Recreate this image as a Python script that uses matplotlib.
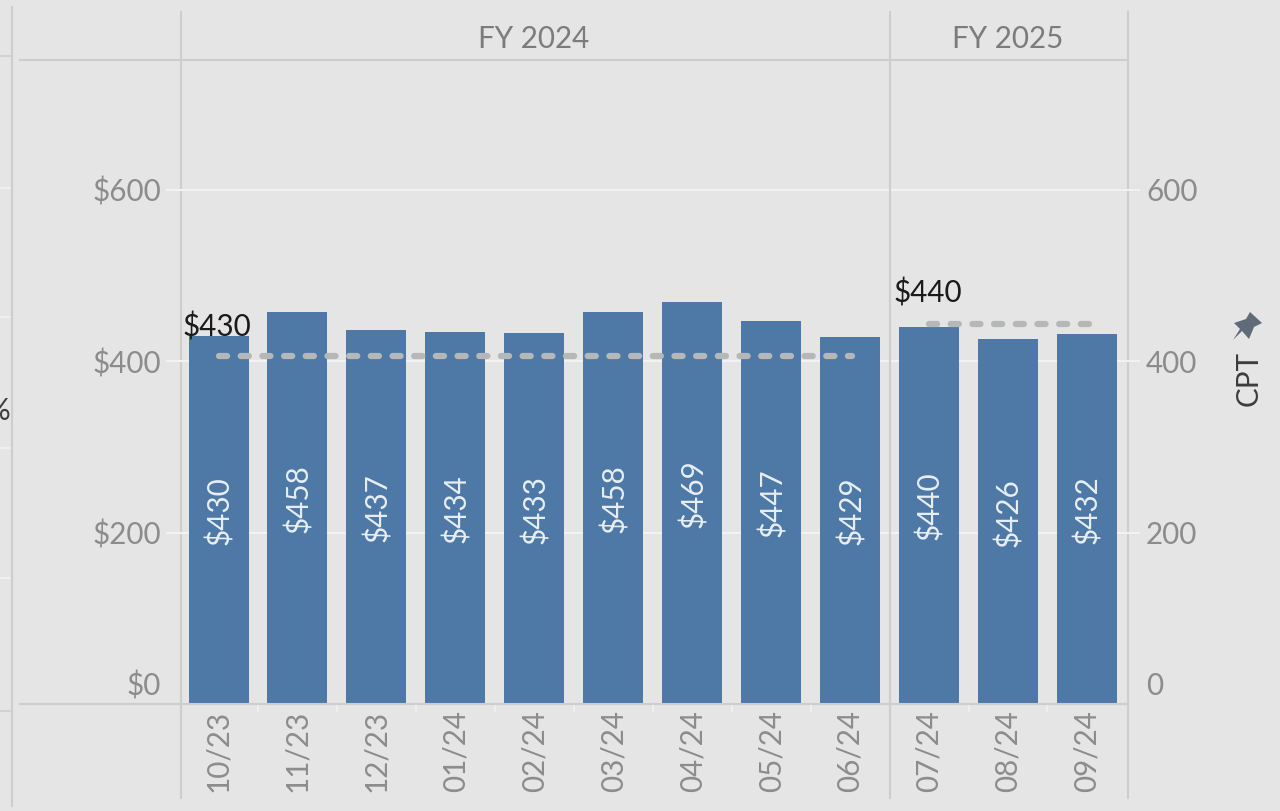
import matplotlib
matplotlib.use("Agg")
import matplotlib.pyplot as plt
from matplotlib.lines import Line2D
from matplotlib.patches import Polygon
from matplotlib.transforms import ScaledTranslation
import numpy as np

plt.rcParams['font.family'] = ['Lato', 'DejaVu Sans']

months = ["10/23","11/23","12/23","01/24","02/24","03/24","04/24","05/24","06/24","07/24","08/24","09/24"]
cpt = [430, 458, 437, 434, 433, 458, 469, 447, 429, 440, 426, 432]
fy24_ref = 406
fy25_ref = 444
y_ticks = [0, 200, 400, 600]

W, H = 1280, 811
BG = '#e5e5e5'
BLUE = '#4e79a7'
GREY = '#8c8c8c'
RULE = '#cdcdcd'
FS = 21.3

fig = plt.figure(figsize=(W/100, H/100), dpi=100, facecolor=BG)

# axes box in pixels
left, right, top, bottom = 181, 1128, 60, 704.5
ax = fig.add_axes([left/W, (H-bottom)/H, (right-left)/W, (bottom-top)/H], facecolor=BG)
ax.set_xlim(-0.475, 11.52)
ax.set_ylim(0, 751.6)

x = np.arange(len(cpt))
ax.bar(x, cpt, width=0.76, color=BLUE, zorder=3)

for i, v in enumerate(cpt):
    ax.annotate("$%d" % v, (i, v/2), xytext=(0.7, 7), textcoords='offset points', rotation=90,
                ha='center', va='center', color='#e8eef4', fontsize=FS, zorder=5)

dash = dict(color='#b5b8b7', lw=4.5, dashes=(1.3, 2.17), dash_capstyle='round', zorder=4)
ax.plot([0.0, 8.03], [fy24_ref, fy24_ref], **dash)
ax.plot([9.0, 11.03], [fy25_ref, fy25_ref], **dash)

ax.annotate("$430", (0, cpt[0]), xytext=(-26, -0.5), textcoords='offset points', color='#1a1a1a', fontsize=FS, zorder=6)
ax.annotate("$440", (9, cpt[9]), xytext=(-25.5, 17.8), textcoords='offset points', color='#1a1a1a', fontsize=FS, zorder=6)

ax.set_yticks(y_ticks)
ax.set_yticklabels(["$%d" % t for t in y_ticks])
ax.set_xticks(x)
ax.set_xticklabels(months, rotation=90)
ax.tick_params(axis='y', length=0, pad=14.2, labelsize=FS, labelcolor=GREY)
ax.tick_params(axis='x', length=0, pad=3.7, labelsize=FS, labelcolor=GREY)
ax.grid(axis='y', color='#f2f2f2', lw=1.5, zorder=1)
ax.set_axisbelow(True)
for s in ax.spines.values():
    s.set_visible(False)

ax2 = ax.twinx()
ax2.set_ylim(ax.get_ylim())
ax2.set_yticks(y_ticks)
ax2.set_yticklabels([str(t) for t in y_ticks])
ax2.tick_params(axis='y', length=0, pad=13, labelsize=FS, labelcolor=GREY)
for s in ax2.spines.values():
    s.set_visible(False)

# the two zero labels sit above the baseline
shift = ScaledTranslation(0, 21/100, fig.dpi_scale_trans)
for lab in [ax.get_yticklabels()[0], ax2.get_yticklabels()[0]]:
    lab.set_transform(lab.get_transform() + shift)


def px_line(x0, y0, x1, y1, color=RULE, lw=1.5):
    fig.add_artist(Line2D([x0/W, x1/W], [1-y0/H, 1-y1/H], color=color, lw=lw, zorder=8))


# small white ticks between months, none at the FY divider
for i in range(len(months)-1):
    if i == 8:
        continue
    xp = left + (i + 0.5 + 0.475)/(11.52+0.475)*(right-left)
    px_line(xp, 705, xp, 711, color='#f2f2f2', lw=1.2)

# frame rules
px_line(20, 60, 1128, 60)
px_line(20, 704, 1128, 704)
for xp in [181, 890, 1128]:
    px_line(xp, 12, xp, 798)
px_line(12, 7, 12, 806)

# grid stubs outside the plot
for t in y_ticks[1:]:
    yp = bottom - t*0.8575
    px_line(167, yp, 181, yp, color='#f2f2f2')
    px_line(1128, yp, 1139, yp, color='#f2f2f2')

# bits of the neighbouring pane on the left
for yp in [188, 317, 448, 578]:
    px_line(0, yp, 10, yp, color='#f2f2f2', lw=1.2)
for yp in [56, 711]:
    px_line(0, yp, 10, yp, lw=1.2)

fig.text(534/W, 1-39/H, "FY 2024", ha='center', va='center', color='#7c7c7c', fontsize=FS)
fig.text(1008/W, 1-39/H, "FY 2025", ha='center', va='center', color='#7c7c7c', fontsize=FS)
fig.text(1249/W, 1-379/H, "CPT", rotation=90, ha='center', va='center', color='#3c3c3c', fontsize=FS)
fig.text(-13/W, 1-411/H, "%", ha='left', va='center', color='#3c3c3c', fontsize=FS)

# pin icon
pin = [(1233, 340), (1240, 329), (1234, 323), (1246, 319), (1250, 312), (1262, 323),
       (1254, 327), (1249, 339), (1242, 331)]
fig.add_artist(Polygon([(a/W, 1-b/H) for a, b in pin], closed=True, transform=fig.transFigure,
                       facecolor='#5f6b78', edgecolor='none', zorder=8))

fig.savefig("out.png", dpi=100, facecolor=BG)
